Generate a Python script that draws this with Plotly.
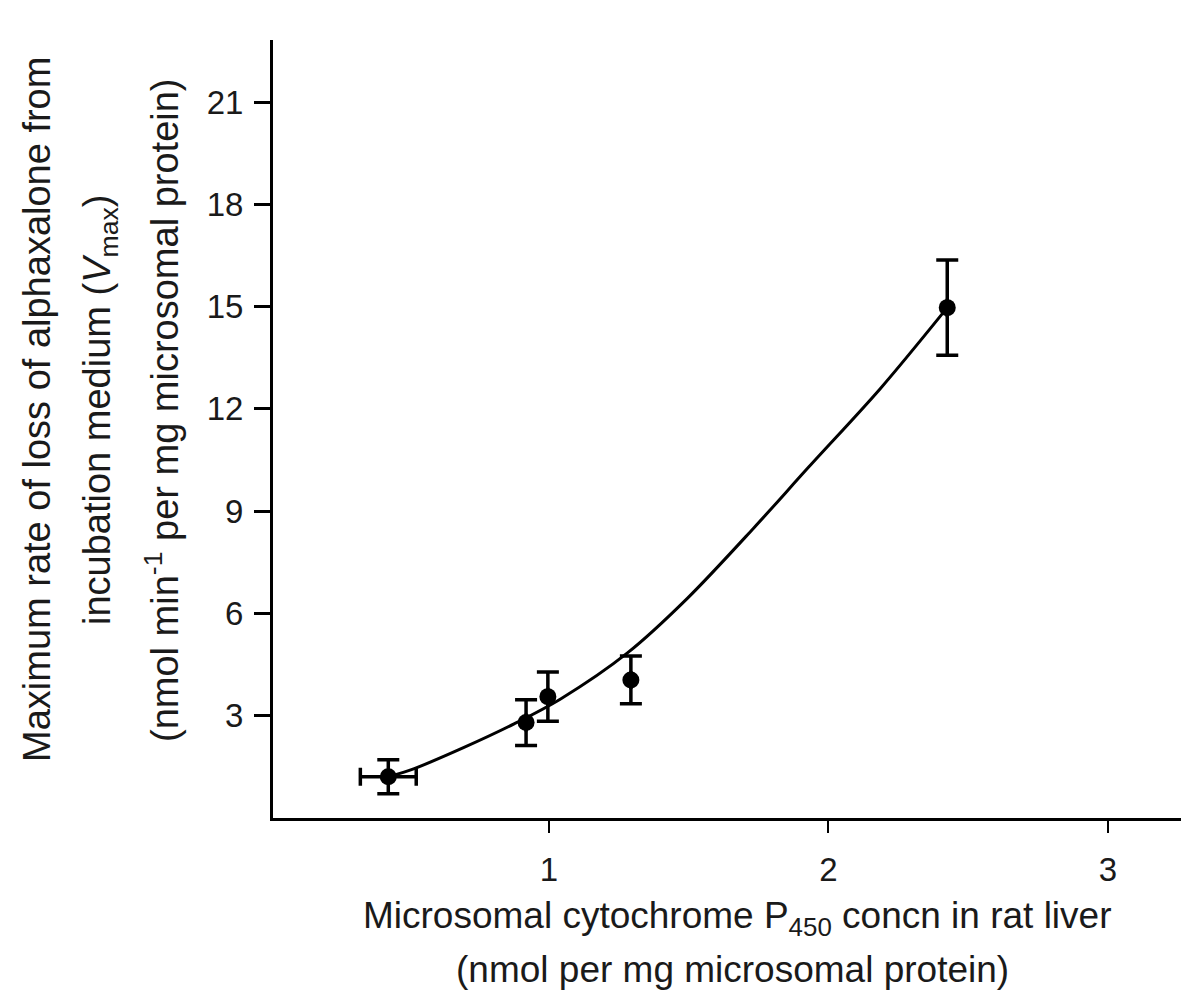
import plotly.graph_objects as go

# Data points (x = P450 concn, y = Vmax)
x_pts = [0.425, 0.918, 0.996, 1.293, 2.425]
y_pts = [1.21, 2.80, 3.56, 4.05, 14.97]
y_err = [0.5, 0.67, 0.72, 0.7, 1.4]
x_err = [0.1, 0, 0, 0, 0]

# Fitted curve
curve_x = [0.425, 0.518, 0.696, 0.875, 1.043, 1.282, 1.496, 1.732, 1.93, 2.186, 2.425]
curve_y = [1.21, 1.45, 2.07, 2.76, 3.50, 4.85, 6.45, 8.50, 10.3, 12.6, 14.97]

x_ticks = [1, 2, 3]
y_ticks = [3, 6, 9, 12, 15, 18, 21]

FONT = "Liberation Sans, Arial, sans-serif"
OFF = 8  # default page body margin
W, H = 1189 - OFF, 991 - OFF
L, T = 273 - OFF, 40 - OFF
AX_Y = 818 - OFF
B = H - AX_Y
PW, PH = W - L, H - T - B


def px_x(p):
    return (p - OFF - L) / PW


def px_y(p):
    return (AX_Y - (p - OFF)) / PH


fig = go.Figure()
fig.add_trace(go.Scatter(
    x=curve_x, y=curve_y, mode="lines",
    line=dict(color="black", width=3, shape="spline", smoothing=0.9),
    hoverinfo="skip", showlegend=False))
fig.add_trace(go.Scatter(
    x=x_pts, y=y_pts, mode="markers",
    marker=dict(color="black", size=17),
    error_y=dict(type="data", array=y_err, color="black", thickness=3.5, width=11),
    error_x=dict(type="data", array=x_err, color="black", thickness=3.5, width=9),
    showlegend=False))

fig.update_layout(
    width=W, height=H,
    margin=dict(l=L, r=0, t=T, b=B, autoexpand=False),
    paper_bgcolor="white", plot_bgcolor="white",
    font=dict(family=FONT, color="#1a1a1a", size=32),
    xaxis=dict(range=[0.0125, 3.29], tickmode="array", tickvals=x_ticks,
               ticktext=[str(v) for v in x_ticks],
               showline=True, linecolor="black", linewidth=3,
               ticks="outside", ticklen=12, tickwidth=2, tickcolor="black",
               showgrid=False, zeroline=False, ticklabelstandoff=8,
               tickfont=dict(size=33, family=FONT, color="#1a1a1a")),
    yaxis=dict(range=[0, 22.82], tickmode="array", tickvals=y_ticks,
               ticktext=[str(v) for v in y_ticks],
               showline=True, linecolor="black", linewidth=3,
               ticks="outside", ticklen=16, tickwidth=3, tickcolor="black",
               showgrid=False, zeroline=False, ticklabelstandoff=4,
               tickfont=dict(size=33, family=FONT, color="#1a1a1a")),
)

xfont = dict(family=FONT, size=37, color="#1a1a1a")
fig.add_annotation(text="Microsomal cytochrome P<sub>450</sub> concn in rat liver",
                   xref="paper", yref="paper", x=px_x(737), y=px_y(918),
                   xanchor="center", yanchor="middle", showarrow=False, font=xfont)
fig.add_annotation(text="(nmol per mg microsomal protein)",
                   xref="paper", yref="paper", x=px_x(732), y=px_y(969),
                   xanchor="center", yanchor="middle", showarrow=False, font=xfont)

yfont = dict(family=FONT, size=38, color="#1a1a1a")
ylines = [("Maximum rate of loss of alphaxalone from", 37),
          ("incubation medium (<i>V</i><sub>max</sub>)", 100),
          ("(nmol min<sup>-1</sup> per mg microsomal protein)", 162)]
for txt, px in ylines:
    fig.add_annotation(text=txt, xref="paper", yref="paper",
                       x=px_x(px), y=px_y(410), textangle=-90,
                       xanchor="center", yanchor="middle", showarrow=False, font=yfont)

fig.write_html("out.html")
